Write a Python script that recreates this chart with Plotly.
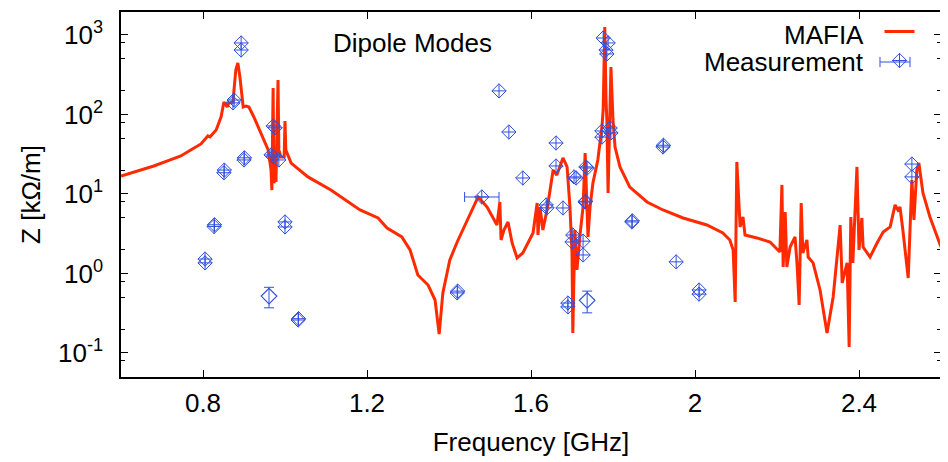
import plotly.graph_objects as go

# MAFIA simulation: frequency (GHz) and impedance (kOhm/m)
mafia_freq = [
    0.600, 0.640, 0.680, 0.720, 0.746, 0.770, 0.795, 0.812, 0.817, 0.832,
    0.844, 0.851, 0.859, 0.863, 0.873, 0.880, 0.885, 0.890, 0.898, 0.905,
    0.912, 0.924, 0.941, 0.959, 0.966, 0.968, 0.971, 0.973, 0.976, 0.978,
    0.983, 0.985, 0.990, 0.998, 1.000, 1.002, 1.015, 1.056, 1.112, 1.183,
    1.227, 1.249, 1.285, 1.305, 1.324, 1.349, 1.366, 1.376, 1.385, 1.402,
    1.420, 1.444, 1.471, 1.493, 1.517, 1.524, 1.527, 1.534, 1.544, 1.554,
    1.566, 1.580, 1.605, 1.615, 1.617, 1.622, 1.629, 1.639, 1.654, 1.663,
    1.671, 1.678, 1.688, 1.695, 1.700, 1.702, 1.707, 1.712, 1.720, 1.727,
    1.732, 1.737, 1.739, 1.744, 1.751, 1.763, 1.773, 1.776, 1.780, 1.783,
    1.785, 1.788, 1.793, 1.795, 1.800, 1.805, 1.817, 1.841, 1.883, 1.922,
    1.971, 2.029, 2.068, 2.085, 2.093, 2.098, 2.102, 2.110, 2.117, 2.122,
    2.151, 2.183, 2.207, 2.212, 2.215, 2.220, 2.224, 2.232, 2.244, 2.249,
    2.254, 2.259, 2.263, 2.273, 2.276, 2.288, 2.305, 2.322, 2.337, 2.354,
    2.359, 2.371, 2.376, 2.380, 2.385, 2.390, 2.395, 2.400, 2.407, 2.410,
    2.427, 2.444, 2.459, 2.476, 2.488, 2.495, 2.500, 2.507, 2.520, 2.529,
    2.534, 2.541, 2.546, 2.556, 2.573, 2.600,
]
mafia_z = [
    16.8, 19.5, 22.5, 26.8, 30.1, 35.8, 42.6, 53.7, 52.1, 63.8,
    93.0, 143.6, 124.3, 139.6, 143.6, 363, 444, 296, 124.3, 127.9,
    124.3, 93.0, 58.5, 35.8, 20.0, 11.2, 215, 13.7, 16.4, 14.2,
    272, 35.8, 29.2, 29.2, 82.8, 35.8, 24.5, 16.4, 11.2, 6.29,
    4.99, 3.73, 2.88, 1.98, 0.957, 0.716, 0.464, 0.173, 0.569, 1.48,
    2.49, 4.71, 9.17, 6.86, 4.07, 7.93, 2.64, 3.52, 4.45, 2.42,
    1.57, 1.81, 3.23, 7.71, 3.05, 6.86, 3.52, 6.29, 20.0, 17.3,
    21.9, 28.4, 21.9, 6.86, 1.81, 0.179, 3.52, 1.11, 3.23, 6.86,
    32.8, 5.77, 2.88, 6.86, 13.7, 26.8, 69.6, 114, 1262, 152,
    85.3, 10.3, 85.3, 396, 85.3, 39.0, 21.9, 12.2, 7.93, 6.29,
    4.99, 4.07, 3.23, 2.64, 1.98, 0.438, 25.3, 3.85, 5.14, 3.05,
    2.80, 2.49, 1.86, 13.0, 1.21, 5.94, 1.21, 2.15, 2.88, 1.28,
    0.402, 7.71, 1.81, 2.64, 1.61, 1.36, 0.620, 0.179, 0.506, 4.07,
    0.760, 1.36, 0.119, 5.14, 1.36, 5.14, 21.9, 1.98, 4.99, 2.15,
    1.61, 2.42, 3.33, 3.85, 7.28, 6.29, 6.86, 3.52, 0.877, 15.0,
    4.71, 20.0, 24.5, 10.3, 5.14, 2.15,
]

# measured modes
meas_freq = [
    0.805, 0.805, 0.827, 0.828, 0.851, 0.852, 0.876, 0.873, 0.893, 0.893,
    0.900, 0.901, 0.971, 0.976, 0.966, 0.971, 0.985, 1.000, 1.000, 1.032,
    1.033, 1.420, 1.421, 1.522, 1.546, 1.580, 1.637, 1.639, 1.661, 1.661,
    1.678, 1.705, 1.710, 1.734, 1.737, 1.732, 1.733, 1.702, 1.700, 1.727,
    1.727, 1.690, 1.690, 1.776, 1.788, 1.783, 1.785, 1.773, 1.773, 1.793,
    1.795, 1.922, 1.923, 1.846, 1.847, 1.954, 2.010, 2.010, 2.529, 2.529,
]
meas_z = [
    1.52, 1.36, 3.9, 4.1, 18.5, 20.0, 152, 140, 794, 647,
    26.8, 28.5, 71.7, 68.0, 31.0, 29.2, 26.8, 4.45, 3.85, 0.260,
    0.270, 0.57, 0.60, 198, 60.2, 15.9, 7.28, 6.7, 43.8, 22.5,
    6.67, 16.4, 15.9, 21.9, 21.2, 7.93, 8.1, 3.05, 2.49, 2.55,
    1.71, 0.425, 0.38, 916, 794, 647, 577, 62, 52, 67.6,
    58.7, 39, 41, 4.45, 4.6, 1.40, 0.62, 0.55, 23.8, 16.4,
]

# measurements with large error bars
erry_freq = [0.961, 1.737]
erry_z = [0.52, 0.46]
erry_dz = [0.15, 0.14]
errx_freq = [1.480]
errx_z = [9.17]
errx_df = [0.042]

RED = "#ff2a00"
BLUE = "#3050e0"
FONT = "Liberation Sans, Arial, sans-serif"

fig = go.Figure()

fig.add_trace(go.Scatter(
    x=mafia_freq, y=mafia_z, mode="lines", name="",
    line=dict(color=RED, width=3),
))

marker = dict(symbol="diamond-cross-open", size=11, color=BLUE,
              line=dict(color=BLUE, width=1))

fig.add_trace(go.Scatter(
    x=errx_freq, y=errx_z, mode="markers", name="",
    marker=marker,
    error_x=dict(type="data", array=errx_df, color=BLUE, thickness=1, width=5),
))
fig.add_trace(go.Scatter(
    x=meas_freq, y=meas_z, mode="markers", showlegend=False,
    marker=marker,
))
fig.add_trace(go.Scatter(
    x=erry_freq, y=erry_z, mode="markers", showlegend=False,
    marker=dict(symbol="diamond-open", size=12, color=BLUE,
                line=dict(color=BLUE, width=1.2)),
    error_y=dict(type="data", array=erry_dz, color=BLUE, thickness=1, width=5),
))

# legend text sits left of the samples (gnuplot style)
for txt, yy in [("MAFIA", 0.937), ("Measurement", 0.863)]:
    fig.add_annotation(x=0.909, y=yy, xref="paper", yref="paper", text=txt,
                       showarrow=False, xanchor="right", yanchor="middle",
                       font=dict(size=26, color="black", family=FONT))

# error bar on the legend sample of the measurement entry
fig.add_shape(type="line", xref="paper", yref="paper",
              x0=0.9256, x1=0.9622, y0=0.863, y1=0.863,
              line=dict(color=BLUE, width=1))
for xc in [0.9256, 0.9622]:
    fig.add_shape(type="line", xref="paper", yref="paper",
                  x0=xc, x1=xc, y0=0.849, y1=0.877,
                  line=dict(color=BLUE, width=1))

fig.add_annotation(x=0.355, y=0.915, xref="paper", yref="paper",
                   text="Dipole Modes", showarrow=False,
                   xanchor="center", yanchor="middle",
                   font=dict(size=26, color="black", family=FONT))

minor_vals = []
for e in [-2, -1, 0, 1, 2, 3]:
    for m in [2, 5, 8]:
        minor_vals.append(m * 10 ** e)

# page body has an 8px margin, so the figure is drawn 8px smaller
fig.update_layout(
    width=940, height=454,
    margin=dict(l=113, r=7, t=4, b=85),
    plot_bgcolor="white", paper_bgcolor="white",
    font=dict(family=FONT, size=26, color="black"),
    showlegend=True,
    legend=dict(x=0.925, y=1.0, xanchor="left", yanchor="top",
                bgcolor="rgba(0,0,0,0)", font=dict(size=20),
                tracegroupgap=0, itemwidth=30),
    xaxis=dict(
        range=[0.6, 2.6], showgrid=False, zeroline=False,
        showline=True, linecolor="black", linewidth=1.5, mirror="ticks",
        ticks="inside", ticklen=7, tickcolor="black", tickwidth=1.2,
        tickvals=[0.8, 1.2, 1.6, 2.0, 2.4], ticktext=["0.8", "1.2", "1.6", "2", "2.4"],
        ticklabelstandoff=2, automargin=False,
        title=dict(text="Frequency [GHz]", standoff=16, font=dict(size=26)),
    ),
    yaxis=dict(
        type="log", range=[-1.302, 3.289], showgrid=False, zeroline=False,
        showline=True, linecolor="black", linewidth=1.5, mirror="ticks",
        ticks="inside", ticklen=7, tickcolor="black", tickwidth=1.2,
        tickvals=[0.1, 1, 10, 100, 1000],
        ticktext=["10<sup>-1</sup>", "10<sup>0</sup>", "10<sup>1</sup>",
                  "10<sup>2</sup>", "10<sup>3</sup>"],
        ticklabelstandoff=11, automargin=False,
        minor=dict(tickvals=minor_vals, ticks="inside", ticklen=4,
                   tickcolor="black", tickwidth=1, showgrid=False),
        title=dict(text="Z [kΩ/m]", standoff=10, font=dict(size=26)),
    ),
)

fig.write_html("out.html")
